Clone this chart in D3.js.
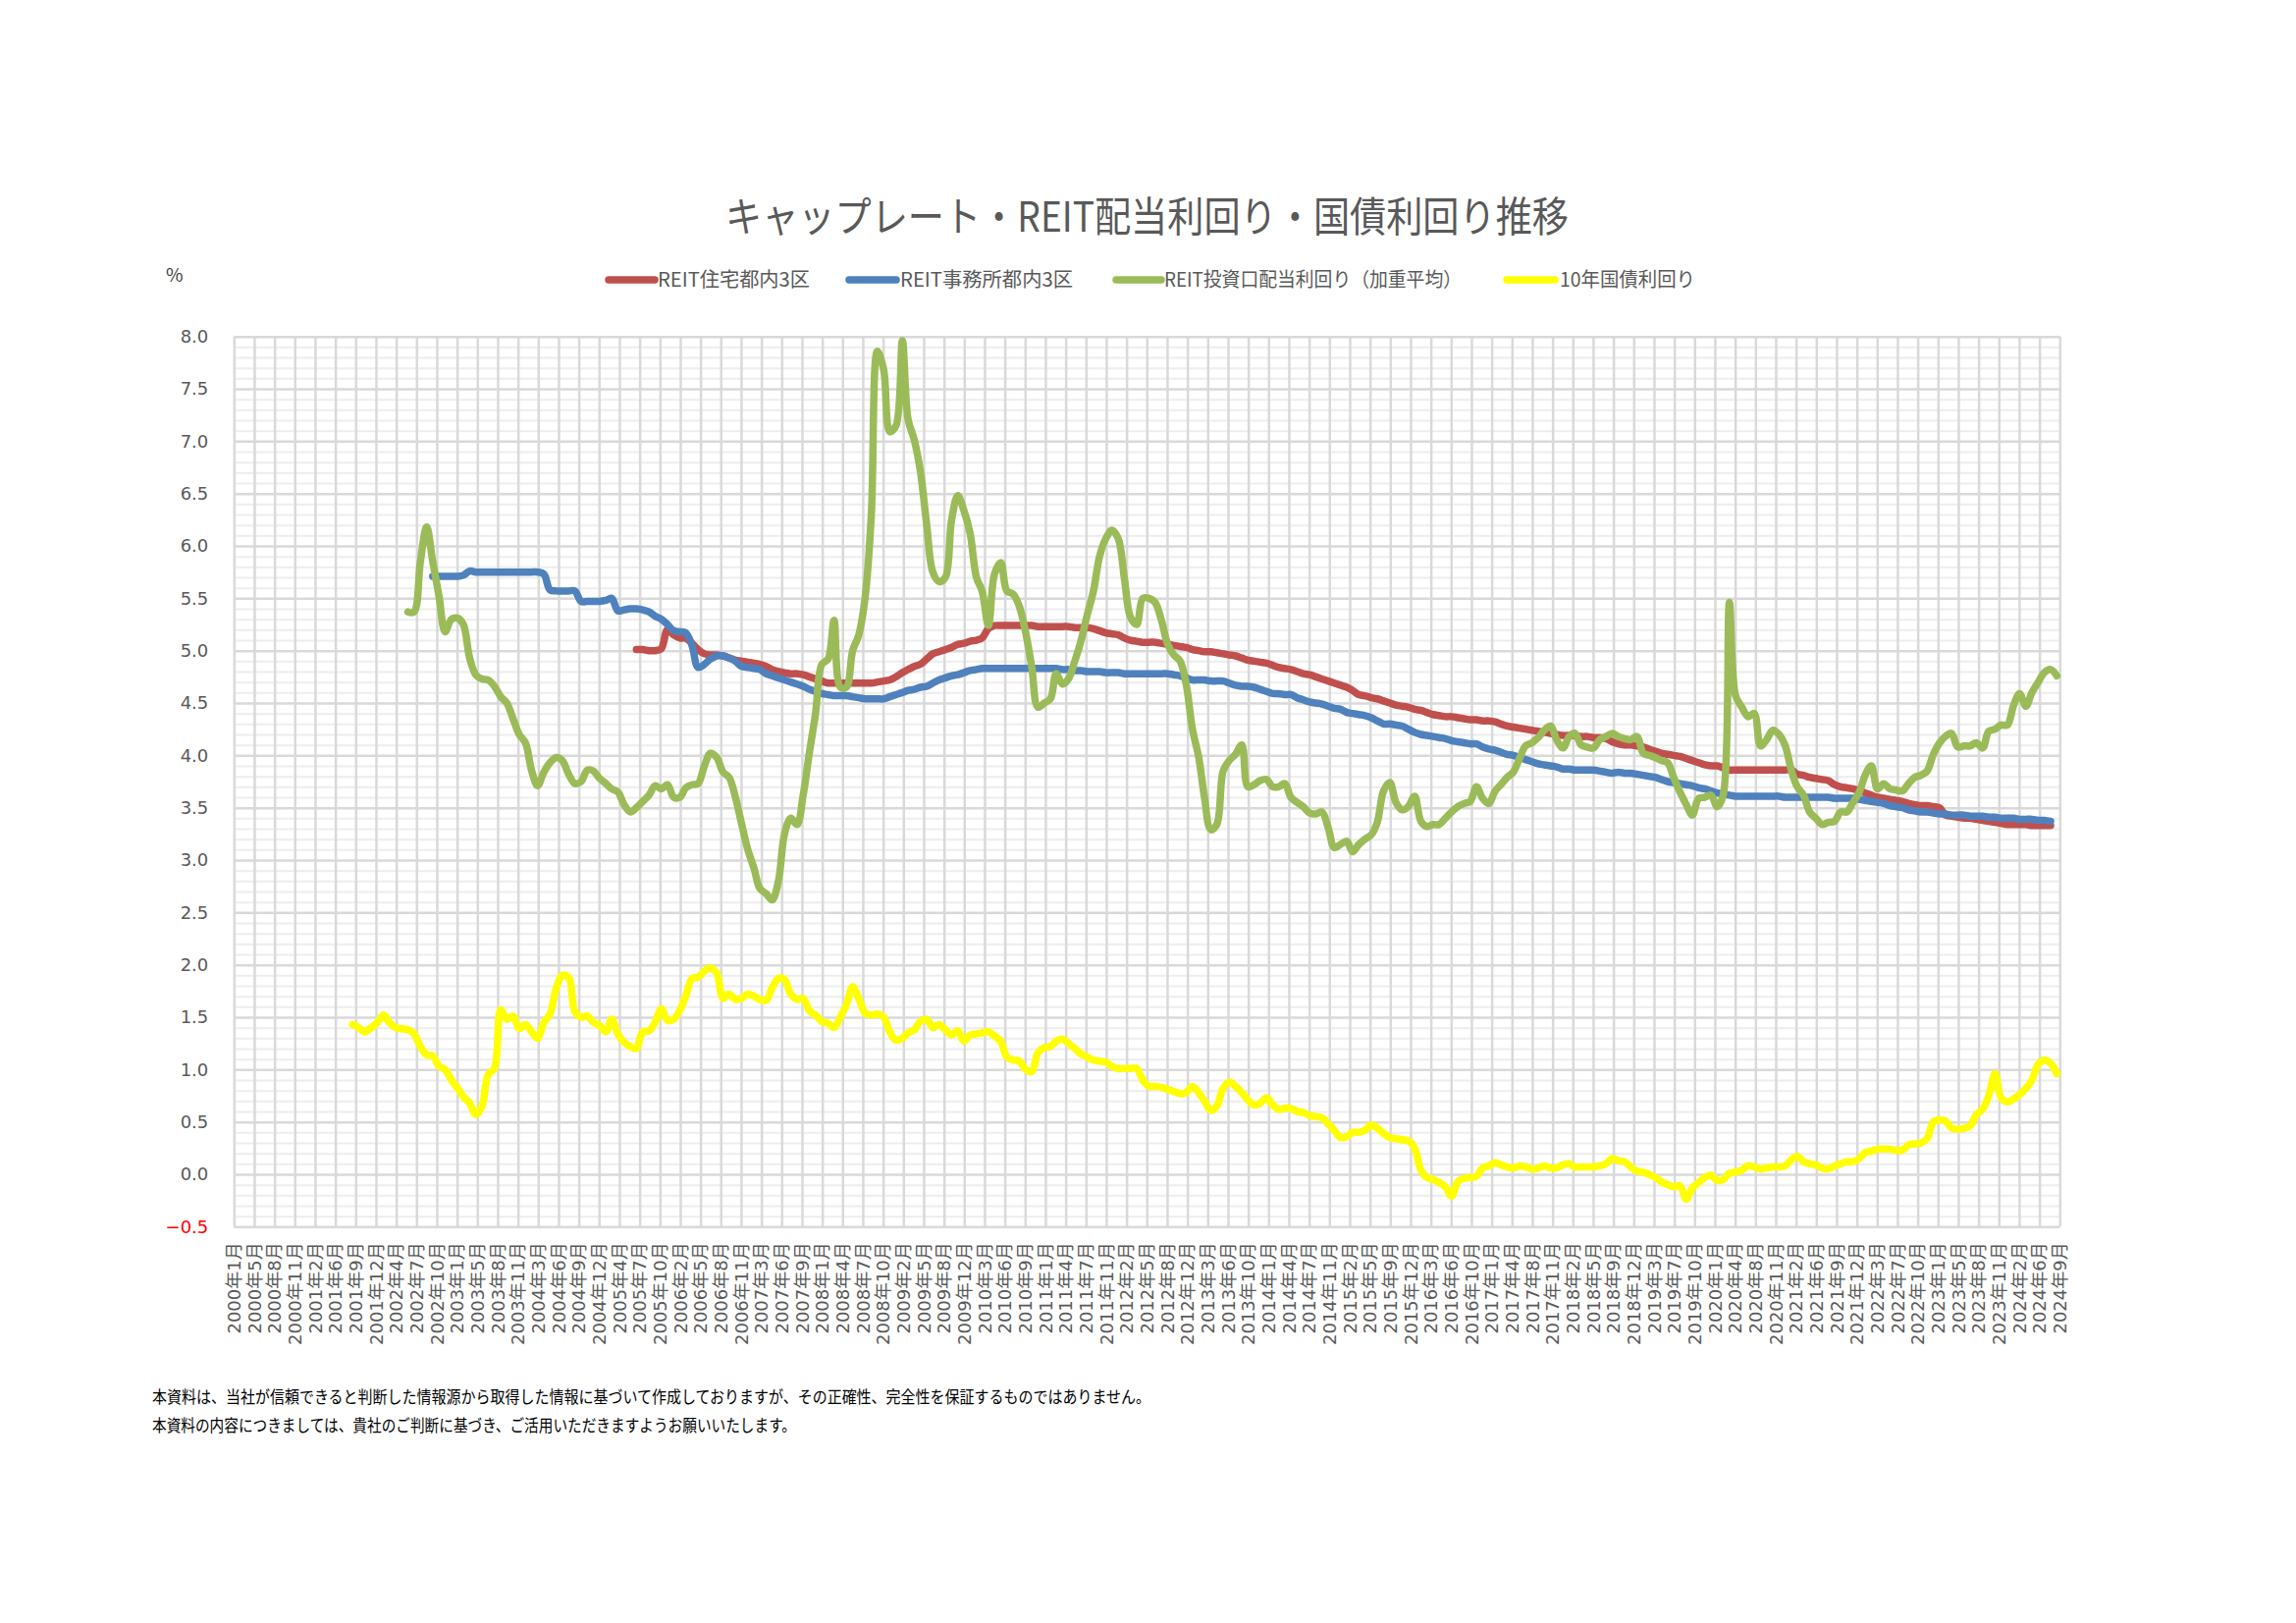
<!DOCTYPE html>
<html>
<head>
<meta charset="utf-8">
<script src="https://cdn.jsdelivr.net/npm/d3@7"></script>
<style>
  body { margin: 0; background: #fff; }
</style>
</head>
<body>
<div class="canvas"></div>
<script>
// ---- data ----
const tickLabels = [
  '2000年1月','2000年5月','2000年8月','2000年11月','2001年2月','2001年6月','2001年9月','2001年12月',
  '2002年4月','2002年7月','2002年10月','2003年1月','2003年5月','2003年8月','2003年11月','2004年3月',
  '2004年6月','2004年9月','2004年12月','2005年4月','2005年7月','2005年10月','2006年2月','2006年5月',
  '2006年8月','2006年11月','2007年3月','2007年6月','2007年9月','2008年1月','2008年4月','2008年7月',
  '2008年10月','2009年2月','2009年5月','2009年8月','2009年12月','2010年3月','2010年6月','2010年9月',
  '2011年1月','2011年4月','2011年7月','2011年11月','2012年2月','2012年5月','2012年8月','2012年12月',
  '2013年3月','2013年6月','2013年10月','2014年1月','2014年4月','2014年7月','2014年11月','2015年2月',
  '2015年5月','2015年9月','2015年12月','2016年3月','2016年6月','2016年10月','2017年1月','2017年4月',
  '2017年8月','2017年11月','2018年2月','2018年5月','2018年9月','2018年12月','2019年3月','2019年7月',
  '2019年10月','2020年1月','2020年4月','2020年8月','2020年11月','2021年2月','2021年6月','2021年9月',
  '2021年12月','2022年3月','2022年7月','2022年10月','2023年1月','2023年5月','2023年8月','2023年11月',
  '2024年2月','2024年6月','2024年9月'
];
const yTicks = [-0.5, 0, 0.5, 1, 1.5, 2, 2.5, 3, 3.5, 4, 4.5, 5, 5.5, 6, 6.5, 7, 7.5, 8];

const seriesNames = ['REIT住宅都内3区', 'REIT事務所都内3区', 'REIT投資口配当利回り（加重平均）', '10年国債利回り'];

// REIT住宅都内3区, monthly from 2005-07
const redStart = '2005-07';
const redValues = [
  5.01, 5.01, 5.00, 5.00, 5.02, 5.20, 5.15, 5.12, 5.12, 5.07,
  5.01, 4.97, 4.96, 4.96, 4.95, 4.93, 4.91, 4.90, 4.89, 4.88,
  4.87, 4.85, 4.82, 4.80, 4.79, 4.78, 4.78, 4.77, 4.75, 4.73,
  4.71, 4.69, 4.69, 4.69, 4.69, 4.69, 4.69, 4.69, 4.69, 4.70,
  4.71, 4.72, 4.75, 4.79, 4.82, 4.85, 4.87, 4.92, 4.97, 4.99,
  5.01, 5.03, 5.06, 5.07, 5.09, 5.10, 5.12, 5.21, 5.24, 5.24,
  5.24, 5.24, 5.24, 5.24, 5.24, 5.23, 5.23, 5.23, 5.23, 5.23,
  5.23, 5.22, 5.22, 5.22, 5.21, 5.19, 5.17, 5.16, 5.15, 5.12,
  5.10, 5.09, 5.08, 5.08, 5.08, 5.07, 5.06, 5.05, 5.04, 5.03,
  5.01, 5.00, 4.99, 4.99, 4.98, 4.97, 4.96, 4.95, 4.93, 4.91,
  4.90, 4.89, 4.88, 4.86, 4.84, 4.83, 4.82, 4.80, 4.78, 4.77,
  4.75, 4.73, 4.71, 4.69, 4.67, 4.65, 4.62, 4.58, 4.57, 4.55,
  4.54, 4.52, 4.50, 4.48, 4.47, 4.46, 4.44, 4.43, 4.41, 4.39,
  4.38, 4.37, 4.37, 4.36, 4.35, 4.34, 4.34, 4.33, 4.33, 4.32,
  4.30, 4.28, 4.27, 4.26, 4.25, 4.24, 4.23, 4.22, 4.21, 4.20,
  4.19, 4.19, 4.19, 4.18, 4.18, 4.17, 4.17, 4.16, 4.13, 4.11,
  4.10, 4.10, 4.09, 4.08, 4.06, 4.04, 4.02, 4.01, 4.00, 3.99,
  3.97, 3.95, 3.93, 3.91, 3.90, 3.90, 3.88, 3.86, 3.86, 3.86,
  3.86, 3.86, 3.86, 3.86, 3.86, 3.86, 3.86, 3.86, 3.82, 3.81,
  3.79, 3.78, 3.77, 3.76, 3.72, 3.70, 3.69, 3.68, 3.66, 3.64,
  3.62, 3.60, 3.59, 3.58, 3.57, 3.56, 3.54, 3.53, 3.52, 3.52,
  3.51, 3.50, 3.43, 3.42, 3.41, 3.40, 3.40, 3.39, 3.38, 3.37,
  3.36, 3.35, 3.34, 3.34, 3.34, 3.34, 3.33, 3.33, 3.33, 3.33
];

// REIT事務所都内3区, monthly from 2002-10
const blueStart = '2002-10';
const blueValues = [
  5.71, 5.71, 5.71, 5.71, 5.71, 5.72, 5.76, 5.75, 5.75, 5.75,
  5.75, 5.75, 5.75, 5.75, 5.75, 5.75, 5.75, 5.75, 5.73, 5.58,
  5.57, 5.57, 5.57, 5.57, 5.47, 5.47, 5.47, 5.47, 5.48, 5.50,
  5.38, 5.39, 5.40, 5.40, 5.39, 5.37, 5.33, 5.30, 5.25, 5.19,
  5.18, 5.17, 5.05, 4.84, 4.87, 4.92, 4.95, 4.95, 4.93, 4.90,
  4.85, 4.84, 4.83, 4.82, 4.78, 4.76, 4.74, 4.72, 4.70, 4.68,
  4.66, 4.63, 4.61, 4.59, 4.58, 4.57, 4.57, 4.57, 4.56, 4.55,
  4.54, 4.54, 4.54, 4.54, 4.56, 4.58, 4.60, 4.62, 4.63, 4.65,
  4.66, 4.69, 4.72, 4.74, 4.76, 4.77, 4.79, 4.81, 4.82, 4.83,
  4.83, 4.83, 4.83, 4.83, 4.83, 4.83, 4.83, 4.83, 4.83, 4.83,
  4.83, 4.83, 4.82, 4.82, 4.81, 4.81, 4.80, 4.80, 4.80, 4.79,
  4.79, 4.79, 4.78, 4.78, 4.78, 4.78, 4.78, 4.78, 4.78, 4.78,
  4.77, 4.76, 4.74, 4.72, 4.72, 4.72, 4.71, 4.71, 4.71, 4.69,
  4.67, 4.66, 4.66, 4.65, 4.63, 4.61, 4.59, 4.59, 4.58, 4.58,
  4.55, 4.53, 4.51, 4.50, 4.49, 4.47, 4.45, 4.44, 4.41, 4.40,
  4.39, 4.38, 4.36, 4.33, 4.30, 4.30, 4.29, 4.28, 4.25, 4.22,
  4.20, 4.19, 4.18, 4.17, 4.16, 4.14, 4.13, 4.12, 4.11, 4.11,
  4.08, 4.06, 4.05, 4.03, 4.01, 4.00, 3.98, 3.96, 3.94, 3.92,
  3.91, 3.90, 3.89, 3.87, 3.87, 3.86, 3.86, 3.86, 3.86, 3.85,
  3.84, 3.83, 3.84, 3.83, 3.83, 3.82, 3.81, 3.80, 3.79, 3.77,
  3.75, 3.74, 3.73, 3.72, 3.71, 3.69, 3.68, 3.66, 3.64, 3.63,
  3.62, 3.61, 3.61, 3.61, 3.61, 3.61, 3.61, 3.61, 3.61, 3.60,
  3.60, 3.60, 3.60, 3.60, 3.60, 3.60, 3.60, 3.59, 3.59, 3.59,
  3.59, 3.58, 3.57, 3.56, 3.55, 3.54, 3.52, 3.51, 3.50, 3.48,
  3.47, 3.46, 3.46, 3.45, 3.44, 3.44, 3.43, 3.43, 3.43, 3.42,
  3.42, 3.42, 3.41, 3.41, 3.40, 3.40, 3.40, 3.39, 3.39, 3.39,
  3.38, 3.38, 3.37
];

// REIT投資口配当利回り（加重平均）, monthly from 2002-06
const greenStart = '2002-06';
const greenValues = [
  5.37, 5.37, 5.85, 6.18, 5.85, 5.52, 5.18, 5.30, 5.31, 5.25,
  4.93, 4.77, 4.73, 4.72, 4.66, 4.56, 4.50, 4.35, 4.20, 4.12,
  3.85, 3.71, 3.84, 3.93, 3.98, 3.95, 3.82, 3.73, 3.75, 3.86,
  3.85, 3.78, 3.73, 3.68, 3.65, 3.53, 3.46, 3.50, 3.56, 3.62,
  3.71, 3.68, 3.72, 3.60, 3.60, 3.69, 3.72, 3.73, 3.90, 4.02,
  3.98, 3.84, 3.79, 3.60, 3.35, 3.10, 2.92, 2.73, 2.68, 2.62,
  2.80, 3.25, 3.40, 3.34, 3.62, 4.03, 4.40, 4.87, 4.92, 5.29,
  4.65, 4.65, 5.00, 5.15, 5.50, 6.30, 7.86, 7.68, 7.09, 7.15,
  7.96, 7.21, 7.01, 6.71, 6.20, 5.75, 5.66, 5.70, 6.24, 6.48,
  6.34, 6.12, 5.70, 5.57, 5.24, 5.73, 5.84, 5.57, 5.54, 5.42,
  5.18, 4.84, 4.46, 4.50, 4.54, 4.78, 4.68, 4.73, 4.90, 5.09,
  5.34, 5.57, 5.90, 6.07, 6.15, 6.07, 5.68, 5.32, 5.25, 5.50,
  5.50, 5.46, 5.29, 5.06, 4.96, 4.90, 4.68, 4.25, 3.98, 3.60,
  3.29, 3.34, 3.85, 3.95, 4.01, 4.10, 3.70, 3.72, 3.76, 3.77,
  3.70, 3.70, 3.73, 3.60, 3.55, 3.51, 3.45, 3.44, 3.46, 3.31,
  3.12, 3.15, 3.18, 3.08, 3.15, 3.20, 3.24, 3.36, 3.66, 3.74,
  3.55, 3.48, 3.51, 3.61, 3.37, 3.32, 3.34, 3.34, 3.40, 3.46,
  3.51, 3.54, 3.56, 3.70, 3.59, 3.54, 3.66, 3.72, 3.79, 3.84,
  3.97, 4.09, 4.12, 4.17, 4.24, 4.28, 4.15, 4.07, 4.18, 4.21,
  4.10, 4.08, 4.07, 4.15, 4.18, 4.21, 4.18, 4.16, 4.15, 4.18,
  4.02, 4.00, 3.98, 3.95, 3.93, 3.79, 3.65, 3.53, 3.43, 3.59,
  3.60, 3.62, 3.51, 3.62, 5.46, 4.57, 4.46, 4.37, 4.40, 4.09,
  4.15, 4.24, 4.20, 4.09, 3.85, 3.70, 3.62, 3.46, 3.40, 3.34,
  3.36, 3.37, 3.46, 3.46, 3.55, 3.65, 3.82, 3.90, 3.68, 3.73,
  3.68, 3.67, 3.66, 3.73, 3.79, 3.81, 3.85, 4.01, 4.12, 4.18,
  4.21, 4.08, 4.09, 4.09, 4.12, 4.07, 4.23, 4.25, 4.29, 4.29,
  4.48, 4.59, 4.47, 4.60, 4.70, 4.79, 4.82, 4.76
];

// 10年国債利回り, monthly from 2001-09
const yellowStart = '2001-09';
const yellowValues = [
  1.43, 1.40, 1.36, 1.40, 1.45, 1.52, 1.45, 1.40, 1.39, 1.38,
  1.34, 1.22, 1.14, 1.13, 1.03, 1.00, 0.90, 0.82, 0.74, 0.68,
  0.57, 0.65, 0.95, 1.01, 1.57, 1.48, 1.51, 1.39, 1.43, 1.36,
  1.30, 1.45, 1.53, 1.78, 1.90, 1.88, 1.55, 1.50, 1.51, 1.45,
  1.42, 1.36, 1.48, 1.34, 1.26, 1.22, 1.20, 1.36, 1.37, 1.45,
  1.58, 1.47, 1.48, 1.57, 1.70, 1.87, 1.88, 1.94, 1.97, 1.92,
  1.68, 1.72, 1.67, 1.68, 1.72, 1.70, 1.67, 1.66, 1.78, 1.87,
  1.86, 1.72, 1.67, 1.68, 1.56, 1.52, 1.46, 1.44, 1.40, 1.50,
  1.62, 1.79, 1.68, 1.54, 1.52, 1.53, 1.50, 1.36, 1.28, 1.30,
  1.35, 1.38, 1.46, 1.48, 1.40, 1.43, 1.38, 1.33, 1.37, 1.27,
  1.33, 1.34, 1.35, 1.36, 1.32, 1.27, 1.12, 1.09, 1.08, 1.00,
  0.98, 1.16, 1.21, 1.22, 1.27, 1.29, 1.25, 1.20, 1.15, 1.12,
  1.09, 1.08, 1.07, 1.03, 1.01, 1.01, 1.01, 1.01, 0.90, 0.84,
  0.84, 0.83, 0.81, 0.79, 0.77, 0.78, 0.84, 0.78, 0.70, 0.61,
  0.65, 0.82, 0.88, 0.84, 0.78, 0.71, 0.66, 0.68, 0.73, 0.66,
  0.62, 0.63, 0.63, 0.60, 0.59, 0.56, 0.55, 0.54, 0.48, 0.42,
  0.35, 0.36, 0.40, 0.40, 0.42, 0.47, 0.44, 0.39, 0.35, 0.34,
  0.33, 0.32, 0.25, 0.04, -0.03, -0.05, -0.08, -0.12, -0.21, -0.07,
  -0.04, -0.03, -0.02, 0.06, 0.08, 0.11, 0.09, 0.07, 0.06, 0.08,
  0.07, 0.05, 0.06, 0.08, 0.06, 0.06, 0.09, 0.10, 0.07, 0.07,
  0.07, 0.07, 0.08, 0.10, 0.15, 0.13, 0.12, 0.07, 0.03, 0.02,
  0.00, -0.03, -0.07, -0.10, -0.12, -0.11, -0.24, -0.13, -0.08, -0.03,
  -0.01, -0.06, -0.05, 0.01, 0.02, 0.04, 0.08, 0.07, 0.05, 0.06,
  0.07, 0.07, 0.08, 0.14, 0.17, 0.12, 0.10, 0.09, 0.06, 0.05,
  0.08, 0.10, 0.12, 0.12, 0.15, 0.21, 0.22, 0.24, 0.24, 0.24,
  0.23, 0.23, 0.28, 0.29, 0.30, 0.34, 0.50, 0.52, 0.51, 0.44,
  0.43, 0.44, 0.46, 0.57, 0.62, 0.75, 0.96, 0.73, 0.69, 0.72,
  0.76, 0.82, 0.90, 1.05, 1.09, 1.06, 0.96
];

const colors = ['#C0504D', '#4F81BD', '#9BBB59', '#FFFF00'];

// ---- layout ----
const width = 2339, height = 1653;
const margin = { top: 342.7, right: 240.7, bottom: 403.7, left: 238.3 };
const graphWidth = width - margin.left - margin.right;
const graphHeight = height - margin.top - margin.bottom;

const latin = '"DejaVu Sans", "Noto Sans CJK JP", sans-serif';
const jp = '"Noto Sans CJK JP", sans-serif';

const svg = d3.select('.canvas').append('svg')
  .attr('width', width)
  .attr('height', height);

const graph = svg.append('g')
  .attr('transform', `translate(${margin.left}, ${margin.top})`);

// date axis: labels every 100 days (Excel date axis)
const parseMonth = d3.timeParse('%Y-%m');
const t0 = new Date(2000, 0, 25);
const tEnd = d3.timeDay.offset(t0, 100 * (tickLabels.length - 1));
const tickDates = tickLabels.map((_, i) => d3.timeDay.offset(t0, 100 * i));

const x = d3.scaleTime().domain([t0, tEnd]).range([0, graphWidth]);
const y = d3.scaleLinear().domain([-0.5, 8]).range([graphHeight, 0]);

// minor horizontal gridlines every 0.1
const minorTicks = d3.range(-5, 81).map(d => d / 10).filter(d => Math.abs(d * 2 - Math.round(d * 2)) > 1e-6);
graph.append('g')
  .call(d3.axisLeft(y).tickValues(minorTicks).tickSize(-graphWidth).tickFormat(''))
  .call(g => g.select('.domain').remove())
  .call(g => g.selectAll('line').attr('stroke', '#EDEDED').attr('stroke-width', 2));

// vertical gridlines
graph.append('g')
  .attr('transform', `translate(0, ${graphHeight})`)
  .call(d3.axisBottom(x).tickValues(tickDates).tickSize(-graphHeight).tickFormat(''))
  .call(g => g.select('.domain').remove())
  .call(g => g.selectAll('line').attr('stroke', '#D9D9D9').attr('stroke-width', 2.5));

// major horizontal gridlines
graph.append('g')
  .call(d3.axisLeft(y).tickValues(yTicks).tickSize(-graphWidth).tickFormat(''))
  .call(g => g.select('.domain').remove())
  .call(g => g.selectAll('line').attr('stroke', '#D9D9D9').attr('stroke-width', 2.5));

// y axis labels
graph.append('g')
  .call(d3.axisLeft(y).tickValues(yTicks).tickSize(0).tickPadding(26).tickFormat(d3.format('.1f')))
  .call(g => g.select('.domain').remove())
  .call(g => g.selectAll('text')
    .attr('font-family', latin)
    .attr('font-size', 18)
    .attr('fill', d => d < 0 ? '#FF0000' : '#595959'));

// x axis labels (rotated)
graph.append('g')
  .attr('transform', `translate(0, ${graphHeight})`)
  .call(d3.axisBottom(x).tickValues(tickDates).tickSize(0).tickFormat((d, i) => tickLabels[i]))
  .call(g => g.select('.domain').remove())
  .call(g => g.selectAll('text')
    .attr('font-family', latin)
    .attr('font-size', 18)
    .attr('fill', '#595959')
    .attr('transform', 'rotate(-90)')
    .attr('text-anchor', 'end')
    .attr('x', -16)
    .attr('y', 0)
    .attr('dy', '0.35em'));

// lines
const series = [
  { start: redStart, values: redValues },
  { start: blueStart, values: blueValues },
  { start: greenStart, values: greenValues },
  { start: yellowStart, values: yellowValues }
].map((s, i) => ({
  color: colors[i],
  points: s.values.map((v, j) => ({ date: d3.timeMonth.offset(parseMonth(s.start), j), value: v }))
}));

const line = d3.line()
  .x(d => x(d.date))
  .y(d => y(d.value))
  .curve(d3.curveCatmullRom.alpha(0.5));

graph.selectAll('path.series').data(series).enter().append('path')
  .attr('class', 'series')
  .attr('d', d => line(d.points))
  .attr('fill', 'none')
  .attr('stroke', d => d.color)
  .attr('stroke-width', 7.5)
  .attr('stroke-linejoin', 'round')
  .attr('stroke-linecap', 'round');

// title
svg.append('text')
  .attr('x', 739).attr('y', 236)
  .attr('font-family', jp)
  .attr('font-size', 42)
  .attr('fill', '#595959')
  .attr('textLength', 859)
  .attr('lengthAdjust', 'spacingAndGlyphs')
  .text('キャップレート・REIT配当利回り・国債利回り推移');

// unit
svg.append('text')
  .attr('x', 169).attr('y', 287)
  .attr('font-family', jp)
  .attr('font-size', 19)
  .attr('fill', '#404040')
  .text('%');

// legend
const legendItems = [
  { x1: 620, x2: 667, tx: 670, tw: 155 },
  { x1: 865, x2: 913, tx: 917, tw: 176 },
  { x1: 1137, x2: 1183, tx: 1186, tw: 303 },
  { x1: 1535, x2: 1584, tx: 1589, tw: 138 }
];
const legend = svg.append('g');
legendItems.forEach((d, i) => {
  legend.append('line')
    .attr('x1', d.x1).attr('x2', d.x2).attr('y1', 285).attr('y2', 285)
    .attr('stroke', colors[i]).attr('stroke-width', 7.5).attr('stroke-linecap', 'round');
  legend.append('text')
    .attr('x', d.tx).attr('y', 292)
    .attr('font-family', jp)
    .attr('font-size', 20)
    .attr('fill', '#595959')
    .attr('textLength', d.tw)
    .attr('lengthAdjust', 'spacingAndGlyphs')
    .text(seriesNames[i]);
});

// footnotes
const notes = [
  { text: '本資料は、当社が信頼できると判断した情報源から取得した情報に基づいて作成しておりますが、その正確性、完全性を保証するものではありません。', y: 1429, w: 1017 },
  { text: '本資料の内容につきましては、貴社のご判断に基づき、ご活用いただきますようお願いいたします。', y: 1458, w: 656 }
];
notes.forEach(n => {
  svg.append('text')
    .attr('x', 155).attr('y', n.y)
    .attr('font-family', jp)
    .attr('font-size', 17)
    .attr('fill', '#000')
    .attr('textLength', n.w)
    .attr('lengthAdjust', 'spacingAndGlyphs')
    .text(n.text);
});
</script>
</body>
</html>
